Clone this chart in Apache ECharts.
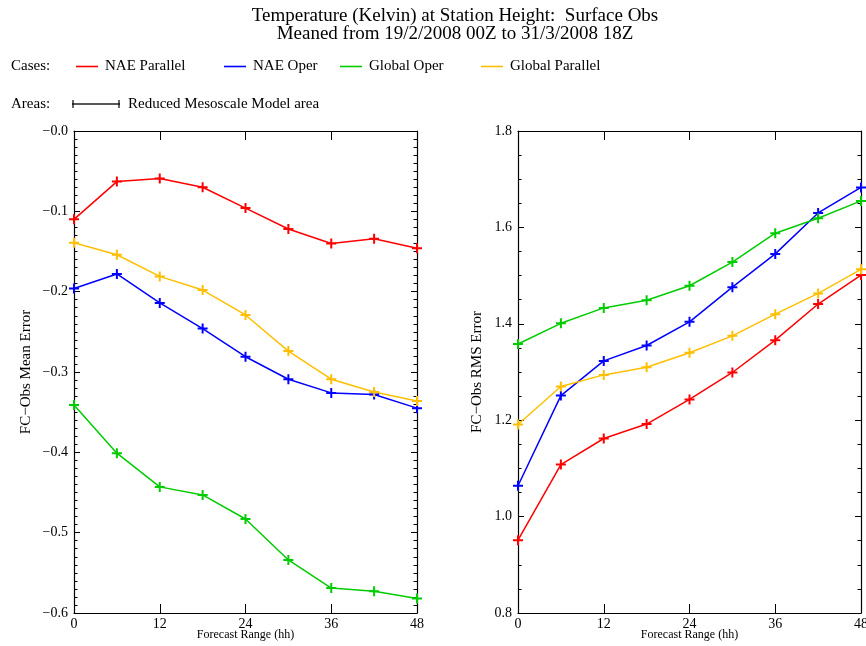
<!DOCTYPE html>
<html>
<head>
<meta charset="utf-8">
<script src="https://cdn.jsdelivr.net/npm/echarts@6/dist/echarts.min.js"></script>
<style>
html,body{margin:0;padding:0;background:#fff;}
#chart{width:866px;height:646px;}
</style>
</head>
<body>
<div id="chart"></div>
<script>
const hours = [0, 6, 12, 18, 24, 30, 36, 42, 48];
const xTicks = [0, 12, 24, 36, 48];
const caseNames = ['NAE Parallel', 'NAE Oper', 'Global Oper', 'Global Parallel'];
const caseColors = ['#ff0000', '#0000ff', '#00cc00', '#ffbf00'];

const meanNAEParallel   = [-0.110, -0.063, -0.059, -0.070, -0.096, -0.122, -0.140, -0.134, -0.146];
const meanNAEOper       = [-0.196, -0.178, -0.214, -0.246, -0.281, -0.309, -0.326, -0.328, -0.345];
const meanGlobalOper    = [-0.341, -0.401, -0.443, -0.453, -0.483, -0.534, -0.569, -0.573, -0.582];
const meanGlobalParallel= [-0.139, -0.154, -0.181, -0.198, -0.229, -0.274, -0.309, -0.325, -0.336];

const rmsNAEParallel    = [0.951, 1.108, 1.162, 1.192, 1.243, 1.299, 1.366, 1.441, 1.501];
const rmsNAEOper        = [1.064, 1.251, 1.323, 1.355, 1.404, 1.476, 1.545, 1.630, 1.683];
const rmsGlobalOper     = [1.358, 1.401, 1.433, 1.449, 1.479, 1.528, 1.588, 1.619, 1.655];
const rmsGlobalParallel = [1.191, 1.270, 1.294, 1.310, 1.340, 1.375, 1.420, 1.463, 1.513];

const titleLine1 = 'Temperature (Kelvin) at Station Height:  Surface Obs';
const titleLine2 = 'Meaned from 19/2/2008 00Z to 31/3/2008 18Z';
const xName = 'Forecast Range (hh)';
const yNameMean = 'FC\u2212Obs Mean Error';
const yNameRms = 'FC\u2212Obs RMS Error';

const FONT = '"Liberation Serif", "DejaVu Serif", serif';
const plus = 'path://M4,0h2v4h4v2h-4v4h-2v-4h-4v-2h4z';

const meanSets = [meanNAEParallel, meanNAEOper, meanGlobalOper, meanGlobalParallel];
const rmsSets = [rmsNAEParallel, rmsNAEOper, rmsGlobalOper, rmsGlobalParallel];

function pairs(arr) { return hours.map((h, i) => [h, arr[i]]); }

const chart = echarts.init(document.getElementById('chart'), null, {renderer: 'canvas'});

const lineStyleAxis = {show: true, onZero: false, lineStyle: {color: '#000', width: 1.2}};

function xAxisMain(gi) {
  return {
    type: 'value', gridIndex: gi, min: 0, max: 48, interval: 12,
    position: 'bottom',
    axisLine: lineStyleAxis,
    axisTick: {show: true, inside: true, length: 9, lineStyle: {color: '#000'}},
    axisLabel: {color: '#000', fontFamily: FONT, fontSize: 14, margin: 4},
    splitLine: {show: false},
    name: xName, nameLocation: 'middle', nameGap: 16, nameMoveOverlap: false,
    nameTextStyle: {color: '#000', fontFamily: FONT, fontSize: 12}
  };
}
function xAxisTop(gi) {
  return {
    type: 'value', gridIndex: gi, min: 0, max: 48, interval: 12,
    position: 'top',
    axisLine: lineStyleAxis,
    axisTick: {show: true, inside: true, length: 9, lineStyle: {color: '#000'}},
    axisLabel: {show: false},
    splitLine: {show: false}
  };
}
function yAxisDef(gi, min, max, interval, minorSplit, pos, showLabel, name, gap, fmt) {
  return {
    type: 'value', gridIndex: gi, min: min, max: max, interval: interval,
    position: pos,
    axisLine: lineStyleAxis,
    axisTick: {show: true, inside: true, length: 6, lineStyle: {color: '#000'}},
    minorTick: {show: true, splitNumber: minorSplit, length: 3.5, lineStyle: {color: '#000'}},
    axisLabel: showLabel ? {color: '#000', fontFamily: FONT, fontSize: 14, margin: 6, formatter: fmt} : {show: false},
    splitLine: {show: false},
    minorSplitLine: {show: false},
    name: showLabel ? name : '',
    nameLocation: 'middle', nameGap: gap, nameRotate: 90,
    nameTextStyle: {color: '#000', fontFamily: FONT, fontSize: 15}
  };
}
const meanFmt = v => (v <= 0 ? '\u2212' : '') + Math.abs(v).toFixed(1);
const rmsFmt = v => v.toFixed(1);

const series = [];
caseNames.forEach((n, k) => {
  series.push({
    name: n, type: 'line', xAxisIndex: 0, yAxisIndex: 0,
    data: pairs(meanSets[k]),
    symbol: plus, symbolSize: 10, showAllSymbol: true,
    lineStyle: {color: caseColors[k], width: 1.5},
    itemStyle: {color: caseColors[k]},
    clip: false, animation: false
  });
  series.push({
    name: n, type: 'line', xAxisIndex: 1, yAxisIndex: 1,
    data: pairs(rmsSets[k]),
    symbol: plus, symbolSize: 10, showAllSymbol: true,
    lineStyle: {color: caseColors[k], width: 1.5},
    itemStyle: {color: caseColors[k]},
    clip: false, animation: false
  });
});

const legendX = [76, 224, 340, 481];
const legends = caseNames.map((n, k) => ({
  data: [n], left: legendX[k], top: 59, padding: 0,
  icon: 'rect', itemWidth: 22, itemHeight: 1.6, itemGap: 8,
  textStyle: {color: '#000', fontFamily: FONT, fontSize: 15, padding: [0, 0, 0, 2]},
  selectedMode: false
}));

const option = {
  backgroundColor: '#fff',
  animation: false,
  grid: [
    {left: 74, top: 131, width: 343, height: 482, containLabel: false, outerBoundsMode: 'none'},
    {left: 518, top: 131, width: 343, height: 482, containLabel: false, outerBoundsMode: 'none'}
  ],
  xAxis: [xAxisMain(0), xAxisMain(1), xAxisTop(0), xAxisTop(1)],
  yAxis: [
    yAxisDef(0, -0.6, 0, 0.1, 10, 'left', true, yNameMean, 40, meanFmt),
    yAxisDef(1, 0.8, 1.8, 0.2, 4, 'left', true, yNameRms, 33, rmsFmt),
    yAxisDef(0, -0.6, 0, 0.1, 10, 'right', false, '', 0, null),
    yAxisDef(1, 0.8, 1.8, 0.2, 4, 'right', false, '', 0, null)
  ],
  legend: legends,
  series: series,
  graphic: [
    {type: 'text', x: 455, y: 16, style: {text: titleLine1, font: '19px ' + FONT, fill: '#000', align: 'center', verticalAlign: 'middle'}},
    {type: 'text', x: 455, y: 34, style: {text: titleLine2, font: '19px ' + FONT, fill: '#000', align: 'center', verticalAlign: 'middle'}},
    {type: 'text', x: 11, y: 66, style: {text: 'Cases:', font: '15px ' + FONT, fill: '#000', align: 'left', verticalAlign: 'middle'}},
    {type: 'text', x: 11, y: 104, style: {text: 'Areas:', font: '15px ' + FONT, fill: '#000', align: 'left', verticalAlign: 'middle'}},
    {type: 'line', shape: {x1: 72, y1: 104, x2: 120, y2: 104}, style: {stroke: '#222', lineWidth: 1.5}},
    {type: 'line', shape: {x1: 73, y1: 100, x2: 73, y2: 108}, style: {stroke: '#000', lineWidth: 1.2}},
    {type: 'line', shape: {x1: 119, y1: 100, x2: 119, y2: 108}, style: {stroke: '#000', lineWidth: 1.2}},
    {type: 'text', x: 128, y: 104, style: {text: 'Reduced Mesoscale Model area', font: '15px ' + FONT, fill: '#000', align: 'left', verticalAlign: 'middle'}}
  ]
};
chart.setOption(option);
</script>
</body>
</html>
